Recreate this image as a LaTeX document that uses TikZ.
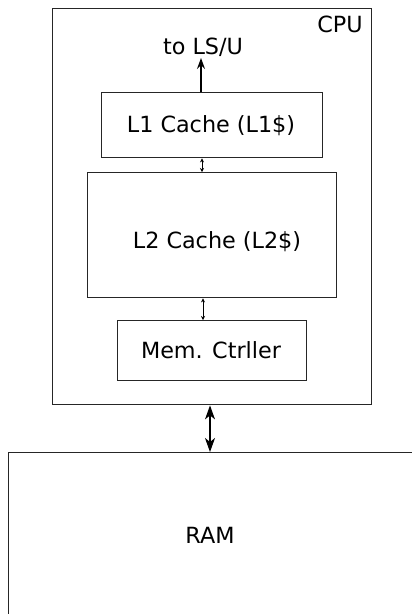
\documentclass[tikz,border=0pt]{standalone}
\usepackage{fontspec}
\setmainfont{DejaVu Sans}
\usetikzlibrary{arrows.meta}
\tikzset{
  box/.style={draw=black!85, line width=1.4pt, inner sep=0pt, anchor=north west},
  lbl/.style={inner sep=0pt, anchor=base, font=\fontsize{22.3}{24}\selectfont},
  bigarr/.style={line width=1.1pt, {Stealth[length=14pt,width=10pt,inset=4pt]}-{Stealth[length=14pt,width=10pt,inset=4pt]}},
  toparr/.style={line width=1.1pt, -{Stealth[length=11pt,width=8pt,inset=4pt]}},
  smallarr/.style={line width=1pt, {Stealth[length=4pt,width=4pt]}-{Stealth[length=4pt,width=4pt]}}
}
\begin{document}
\begin{tikzpicture}[x=1pt,y=-1pt]
\useasboundingbox (0,0) rectangle (412,614);
\clip (0,0) rectangle (412,614);
\node[box, minimum width=319pt, minimum height=396pt] (cpu) at (52,8) {};
\node[box, minimum width=221pt, minimum height=65pt] (l1) at (101,92) {};
\node[box, minimum width=249pt, minimum height=125pt] (l2) at (87,172) {};
\node[box, minimum width=189pt, minimum height=60pt] (mem) at (117,320) {};
\node[box, minimum width=420pt, minimum height=200pt] (ram) at (8,452) {};
\node[lbl] (cputxt) at (340,32) {CPU};
\node[lbl] (totxt) at (203,54) {to LS/U};
\node[lbl] (l1txt) at (211,132.5) {L1 Cache (L1\$)};
\node[lbl] (l2txt) at (217,248) {L2 Cache (L2\$)};
\node[lbl] (memtxt) at (211,358) {Mem. Ctrller};
\node[lbl] (ramtxt) at (210,543) {RAM};
\coordinate (topend) at (201,58);
\draw[toparr] (l1.north -| topend) -- (topend);
\draw[smallarr] ([xshift=202pt]l1.south -| 0,0) -- ([xshift=202pt]l2.north -| 0,0);
\draw[smallarr] ([xshift=203pt]l2.south -| 0,0) -- ([xshift=203pt]mem.north -| 0,0);
\draw[bigarr] ([xshift=210pt]cpu.south -| 0,0) -- ([xshift=210pt]ram.north -| 0,0);
\end{tikzpicture}
\end{document}
